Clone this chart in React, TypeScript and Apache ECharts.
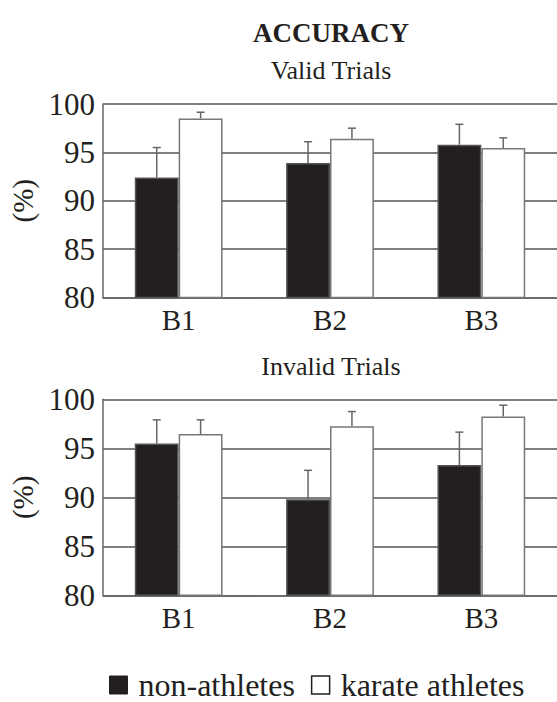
import React, { useEffect, useRef } from "react";
import * as echarts from "echarts";

const categories = ["B1", "B2", "B3"];
const seriesNames = ["non-athletes", "karate athletes"];
const yTicks = [80, 85, 90, 95, 100];

const validNon = [92.4, 93.9, 95.8];
const validNonErr = [3.1, 2.2, 2.1];
const validKarate = [98.5, 96.4, 95.45];
const validKarateErr = [0.65, 1.1, 1.05];

const invalidNon = [95.5, 89.8, 93.3];
const invalidNonErr = [2.4, 2.95, 3.35];
const invalidKarate = [96.45, 97.25, 98.25];
const invalidKarateErr = [1.45, 1.5, 1.15];

const FONT = "Liberation Serif";
const BAR_FRAC = 0.29;

export default function App() {
  const ref = useRef<HTMLDivElement>(null);
  useEffect(() => {
    document.body.style.margin = "0";
    const chart = echarts.init(ref.current!, undefined, { renderer: "svg" });

    const grids = [
      { left: 102, right: -4, top: 104, height: 193.5 },
      { left: 102, right: -4, top: 399.3, height: 196 },
    ];

    const lbl = (size: number) => ({
      color: "#231f20",
      fontFamily: FONT,
      fontSize: size,
      fontWeight: "normal",
      fontStyle: "normal",
    });

    const xAxes = grids.map((_, i) => ({
      type: "category",
      gridIndex: i,
      data: categories,
      axisTick: { show: false },
      axisLine: { show: true, lineStyle: { color: "#666", width: 1.5 } },
      axisLabel: { ...lbl(29), margin: 8 },
    }));

    const yAxes = grids.map((_, i) => ({
      type: "value",
      gridIndex: i,
      min: yTicks[0],
      max: yTicks[yTicks.length - 1],
      interval: 5,
      name: "(%)",
      nameLocation: "middle",
      nameRotate: 90,
      nameGap: 66,
      nameTextStyle: lbl(29),
      axisLine: { show: true, lineStyle: { color: "#666", width: 1.5 } },
      axisTick: { show: false },
      axisLabel: { ...lbl(31), margin: 8 },
      splitLine: { show: true, lineStyle: { color: "#555", width: 1.5 } },
    }));

    const bar = (name: string, data: number[], gi: number, fill: string, border: string) => ({
      type: "bar",
      name,
      xAxisIndex: gi,
      yAxisIndex: gi,
      data,
      barWidth: BAR_FRAC * 100 + "%",
      barGap: "0%",
      itemStyle: { color: fill, borderColor: border, borderWidth: 1.5 },
      z: 3,
    });

    const errBar = (vals: number[], errs: number[], gi: number, side: number) => ({
      type: "custom",
      xAxisIndex: gi,
      yAxisIndex: gi,
      z: 2,
      silent: true,
      data: vals.map((v, i) => [i, v, v + errs[i]]),
      renderItem: (params: any, api: any) => {
        const idx = api.value(0);
        const lo = api.coord([idx, api.value(1)]);
        const hi = api.coord([idx, api.value(2)]);
        const band = api.size([1, 0])[0];
        const x = lo[0] + side * band * BAR_FRAC / 2;
        const style = { stroke: "#666", lineWidth: 1.5 };
        return {
          type: "group",
          children: [
            { type: "line", shape: { x1: x, y1: lo[1], x2: x, y2: hi[1] }, style },
            { type: "line", shape: { x1: x - 4, y1: hi[1], x2: x + 4, y2: hi[1] }, style },
          ],
        };
      },
    });

    const textStyle = (text: string, x: number, y: number, size: number, bold = false) => ({
      type: "text",
      x,
      y,
      style: {
        text,
        fill: "#231f20",
        font: `${bold ? "bold " : ""}${size}px ${FONT}`,
        textAlign: "center",
        textVerticalAlign: "middle",
      },
    });

    chart.setOption({
      animation: false,
      backgroundColor: "#fff",
      textStyle: { fontFamily: FONT },
      grid: grids,
      xAxis: xAxes,
      yAxis: yAxes,
      legend: {
        data: [
          { name: seriesNames[0], itemStyle: { color: "#231f20", borderColor: "#231f20", borderWidth: 1 } },
          { name: seriesNames[1], itemStyle: { color: "#fff", borderColor: "#231f20", borderWidth: 1.5 } },
        ],
        left: 104,
        top: 664,
        icon: "rect",
        itemWidth: 18,
        itemHeight: 18,
        itemGap: 16,
        textStyle: { ...lbl(32), padding: [0, 0, 0, 6] },
      },
      graphic: [
        textStyle("ACCURACY", 331, 33, 27, true),
        textStyle("Valid Trials", 331, 70, 26),
        textStyle("Invalid Trials", 331, 366, 26),
      ],
      series: [
        bar(seriesNames[0], validNon, 0, "#231f20", "#555"),
        bar(seriesNames[1], validKarate, 0, "#fff", "#777"),
        bar(seriesNames[0], invalidNon, 1, "#231f20", "#555"),
        bar(seriesNames[1], invalidKarate, 1, "#fff", "#777"),
        errBar(validNon, validNonErr, 0, -1),
        errBar(validKarate, validKarateErr, 0, 1),
        errBar(invalidNon, invalidNonErr, 1, -1),
        errBar(invalidKarate, invalidKarateErr, 1, 1),
      ],
    });
    return () => chart.dispose();
  }, []);
  return <div ref={ref} style={{ width: 557, height: 702 }} />;
}
